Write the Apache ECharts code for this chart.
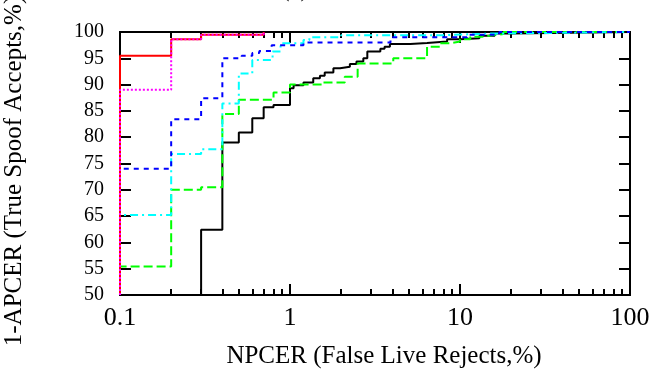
<!DOCTYPE html>
<html>
<head>
<meta charset="utf-8">
<script src="https://cdn.jsdelivr.net/npm/echarts@6/dist/echarts.min.js"></script>
<style>
  html, body { margin: 0; padding: 0; background: #fff; }
  #chart { width: 667px; height: 370px; }
</style>
</head>
<body>
<div id="chart"></div>
<script>
// step curves: [NPCER %, 1-APCER %]
const redCurve = [[0.1, 50], [0.1, 95.5], [0.2, 98.6], [0.3, 99.5], [0.7, 100]];
const magentaCurve = [[0.1, 50], [0.1, 89.0], [0.2, 98.6], [0.3, 99.5], [0.7, 100]];
const blueCurve = [[0.1, 50], [0.1, 74.0], [0.2, 83.4], [0.3, 87.4], [0.4, 95.0], [0.52, 95.5],
  [0.6, 96.0], [0.66, 96.4], [0.78, 97.5], [1.2, 98.0], [3.9, 99.0], [11, 99.5], [17, 100], [100, 100]];
const cyanCurve = [[0.1, 50], [0.1, 65.2], [0.2, 76.8], [0.3, 77.7], [0.4, 86.4], [0.5, 92.1],
  [0.6, 94.7], [0.79, 96.3], [0.88, 97.85], [1.2, 98.5], [1.3, 99.0], [2, 99.4], [8, 99.7], [15, 100], [100, 100]];
const greenCurve = [[0.1, 50], [0.1, 55.4], [0.2, 70.0], [0.3, 70.5], [0.4, 84.4], [0.5, 87.1],
  [0.8, 88.5], [1.0, 90.0], [1.57, 90.4], [2.1, 91.5], [2.5, 94.0], [4.05, 95.0], [6.4, 97.2],
  [7.6, 97.85], [8.7, 98.2], [10, 98.6], [11.5, 99.1], [13.5, 99.4], [15.5, 99.6], [18, 100], [100, 100]];
const blackCurve = [[0.3, 50], [0.3, 62.4], [0.4, 79.0], [0.5, 80.9], [0.6, 83.6], [0.7, 85.7],
  [0.8, 86.1], [1.0, 89.3], [1.05, 89.9], [1.2, 90.4], [1.37, 91.2], [1.5, 91.7], [1.6, 92.3],
  [1.8, 93.1], [1.97, 93.4], [2.25, 93.9], [2.46, 94.4], [2.7, 95.0], [2.85, 96.3], [3.4, 96.8],
  [3.6, 97.2], [3.87, 97.7], [5.1, 97.9], [6.4, 98.2], [8.4, 98.6], [10, 98.8], [13, 99.3],
  [16, 99.7], [20, 100], [100, 100]];

const xMajor = [0.1, 1, 10, 100];
const xMinor = [0.2, 0.3, 0.4, 0.5, 0.6, 0.7, 0.8, 0.9, 2, 3, 4, 5, 6, 7, 8, 9,
  20, 30, 40, 50, 60, 70, 80, 90];
const yTicks = [50, 55, 60, 65, 70, 75, 80, 85, 90, 95, 100];

const FONT = 'Liberation Serif';
const chart = echarts.init(document.getElementById('chart'));

const baseX = (pos, values, len, labels) => ({
  type: 'log', logBase: 10, min: 0.1, max: 100, position: pos,
  axisLine: { show: true, lineStyle: { color: '#000', width: 2 } },
  axisTick: { show: true, inside: true, length: len, customValues: values,
    lineStyle: { color: '#000', width: 2 } },
  axisLabel: labels ? {
    show: true, customValues: xMajor, color: '#000', fontFamily: FONT, fontSize: 26, margin: 10,
    formatter: v => String(+v.toPrecision(3))
  } : { show: false },
  splitLine: { show: false }
});
const baseY = (pos, labels) => ({
  type: 'value', min: 50, max: 100, interval: 5, position: pos,
  axisLine: { show: true, lineStyle: { color: '#000', width: 2 } },
  axisTick: { show: true, inside: true, length: 11, customValues: yTicks,
    lineStyle: { color: '#000', width: 2 } },
  axisLabel: labels ? { show: true, color: '#000', fontFamily: FONT, fontSize: 20, margin: 16 } : { show: false },
  splitLine: { show: false }
});

const mk = (data, color, type, z) => ({
  type: 'line', data: data, step: 'end', showSymbol: false, symbol: 'none',
  xAxisIndex: 0, yAxisIndex: 0, z: z, animation: false,
  lineStyle: { color: color, width: 2, type: type }
});

chart.setOption({
  animation: false,
  grid: { left: 120, right: 37, top: 32, bottom: 75 },
  xAxis: [
    baseX('bottom', xMajor, 11, true),
    baseX('bottom', xMinor, 6, false),
    baseX('top', xMajor, 11, false),
    baseX('top', xMinor, 6, false)
  ],
  yAxis: [baseY('left', true), baseY('right', false)],
  series: [
    mk(blackCurve, '#000000', 'solid', 3),
    mk(greenCurve, '#00ff00', [9, 4], 4),
    mk(cyanCurve, '#00ffff', [8, 4, 2, 4], 5),
    mk(blueCurve, '#0000ff', [5, 5], 6),
    mk(redCurve, '#ff0000', 'solid', 7),
    mk(magentaCurve, '#ff00ff', [2, 2], 8)
  ],
  graphic: [
    { type: 'text', x: 14, y: 171, rotation: Math.PI / 2,
      style: { text: '1-APCER (True Spoof Accepts,%)', fill: '#000', font: '25px "Liberation Serif"',
        textAlign: 'center', textVerticalAlign: 'middle' } },
    { type: 'text', x: 384, y: 356,
      style: { text: 'NPCER (False Live Rejects,%)', fill: '#000', font: '25px "Liberation Serif"',
        textAlign: 'center', textVerticalAlign: 'middle' } },
    { type: 'text', x: 295, y: 2,
      style: { text: '(a)', fill: '#000', font: '25px "Liberation Serif"',
        textAlign: 'center', textVerticalAlign: 'bottom' } }
  ]
});
</script>
</body>
</html>
